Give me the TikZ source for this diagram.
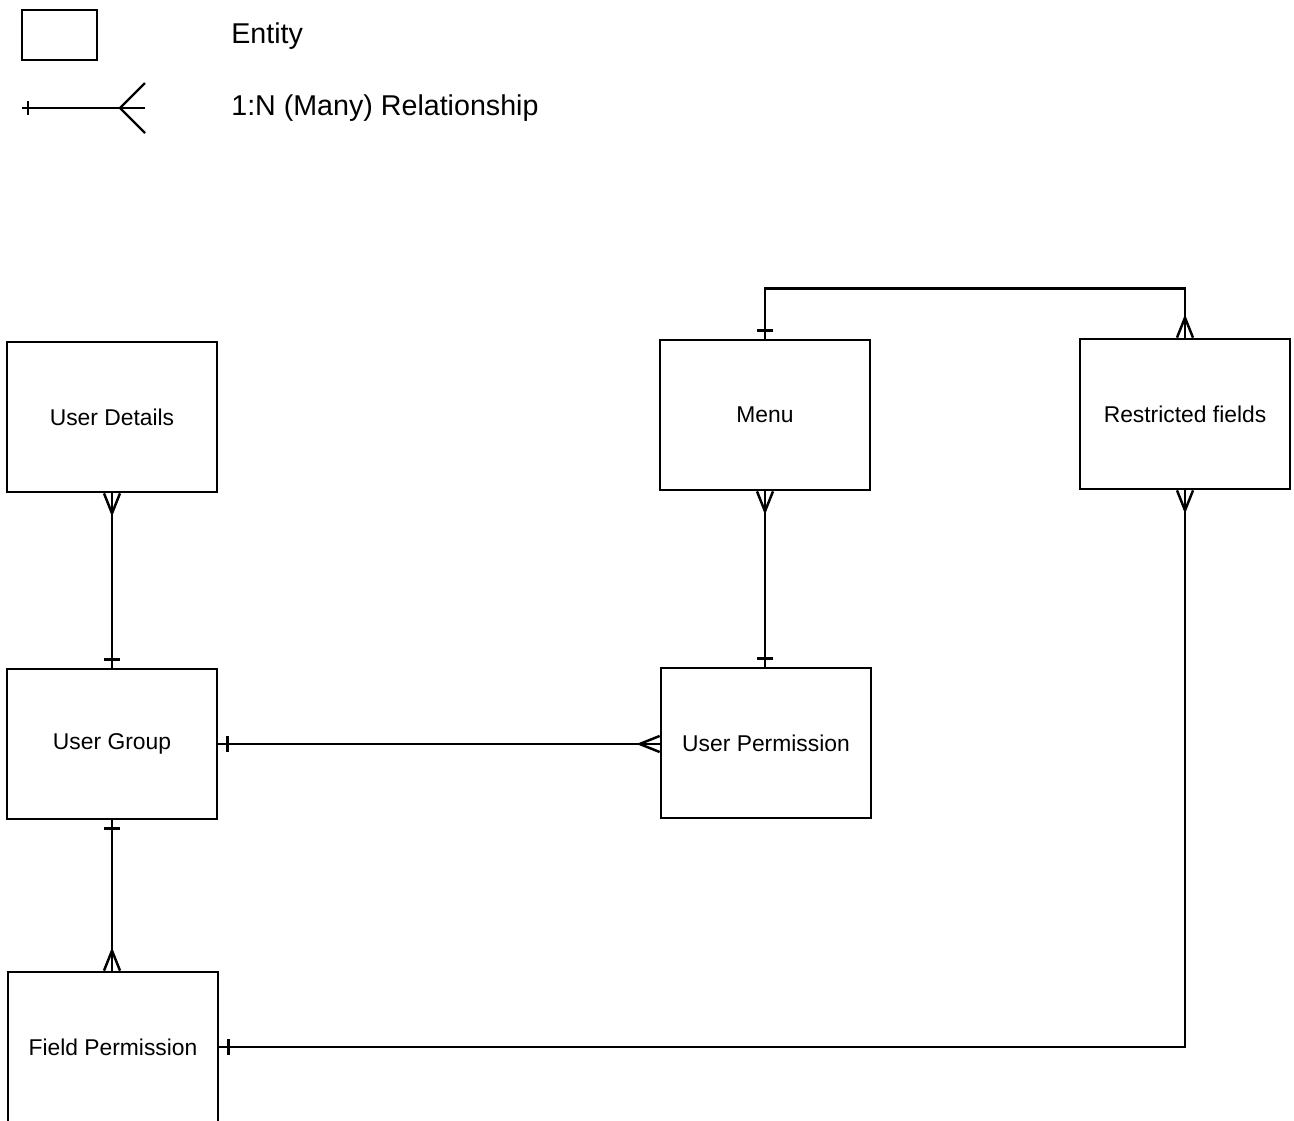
\documentclass[tikz,border=0pt]{standalone}
\usepackage{fontspec}
\setmainfont{Liberation Sans}
\usetikzlibrary{calc}
\begin{document}
\begin{tikzpicture}[x=0.02cm,y=-0.02cm,
  entity/.style={draw,line width=1.6pt,minimum width=4.2cm,minimum height=3cm,
    inner sep=0pt,font=\fontsize{13pt}{15pt}\selectfont},
  rel/.style={line width=1.4pt,line join=miter},
  legendtext/.style={anchor=west,inner sep=0pt,font=\fontsize{16.3pt}{19pt}\selectfont}]
\clip (0,0) rectangle (1294,1120);

% legend
\node[draw,line width=1.6pt,minimum width=1.5cm,minimum height=1cm,inner sep=0pt] (lbox) at (59.5,35) {};
\node[legendtext] (lent) at (231,36) {Entity};
\coordinate (la) at (22,108);
\coordinate (lb) at (145,108);
\draw[rel] (la) -- (lb);
\draw[rel] ($(la)+(6,-7)$) -- ($(la)+(6,7)$);
\draw[rel] ($(lb)+(0,-25)$) -- ($(lb)+(-25,0)$) -- ($(lb)+(0,25)$);
\node[legendtext] (lrel) at (231,108) {1:N (Many) Relationship};

% entities
\node[entity] (ud) at (112,417) {User Details};
\node[entity] (ug) at (112,744) {User Group};
\node[entity] (fp) at (113,1047) {Field Permission};
\node[entity] (mn) at (765,415) {Menu};
\node[entity] (rf) at (1185,414) {Restricted fields};
\node[entity] (up) at (766,743) {User Permission};

% User Details -- User Group
\draw[rel] (ud.south) -- (ug.north);
\draw[rel] ($(ud.south)+(-8,0)$) -- ($(ud.south)+(0,20)$) -- ($(ud.south)+(8,0)$);
\draw[rel] ($(ug.north)+(-8,-8)$) -- ($(ug.north)+(8,-8)$);

% User Group -- Field Permission
\draw[rel] (ug.south) -- (ug.south |- fp.north);
\draw[rel] ($(ug.south)+(-8,8)$) -- ($(ug.south)+(8,8)$);
\draw[rel] ($(ug.south |- fp.north)+(-8,0)$) -- ($(ug.south |- fp.north)+(0,-20)$) -- ($(ug.south |- fp.north)+(8,0)$);

% User Group -- User Permission
\draw[rel] (ug.east) -- (ug.east -| up.west);
\draw[rel] ($(ug.east)+(9,-8)$) -- ($(ug.east)+(9,8)$);
\draw[rel] ($(ug.east -| up.west)+(0,-8)$) -- ($(ug.east -| up.west)+(-20,0)$) -- ($(ug.east -| up.west)+(0,8)$);

% Menu -- User Permission
\draw[rel] (mn.south) -- (mn.south |- up.north);
\draw[rel] ($(mn.south)+(-8,0)$) -- ($(mn.south)+(0,20)$) -- ($(mn.south)+(8,0)$);
\draw[rel] ($(mn.south |- up.north)+(-8,-8)$) -- ($(mn.south |- up.north)+(8,-8)$);

% Menu -- Restricted fields
\coordinate (top1) at ($(mn.north)+(0,-50)$);
\draw[rel] (mn.north) -- (top1) -| (rf.north);
\draw[rel] ($(mn.north)+(-8,-8)$) -- ($(mn.north)+(8,-8)$);
\draw[rel] ($(rf.north)+(-8,0)$) -- ($(rf.north)+(0,-20)$) -- ($(rf.north)+(8,0)$);

% Restricted fields -- Field Permission
\draw[rel] (rf.south) |- (fp.east);
\draw[rel] ($(rf.south)+(-8,0)$) -- ($(rf.south)+(0,20)$) -- ($(rf.south)+(8,0)$);
\draw[rel] ($(fp.east)+(9,-8)$) -- ($(fp.east)+(9,8)$);
\end{tikzpicture}
\end{document}
